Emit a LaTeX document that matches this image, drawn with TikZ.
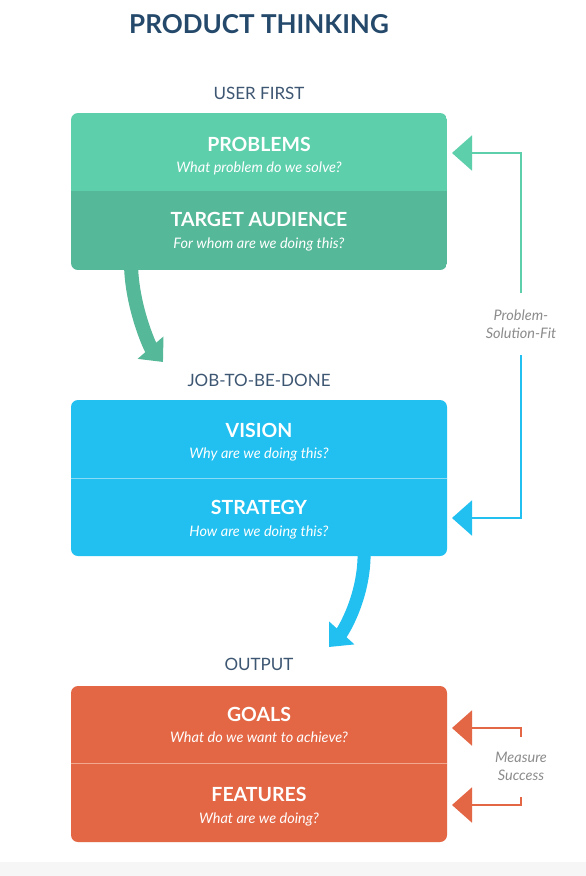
\documentclass[tikz,border=0pt]{standalone}
\usepackage{fontspec}
\setmainfont{Lato}
\usetikzlibrary{arrows.meta}
\definecolor{navy}{HTML}{24496B}
\definecolor{navylight}{HTML}{3D5672}
\definecolor{gtop}{HTML}{5DCFAB}
\definecolor{gbot}{HTML}{55B898}
\definecolor{bluebox}{HTML}{21C0F0}
\definecolor{bluediv}{HTML}{8ADCF6}
\definecolor{orangebox}{HTML}{E36745}
\definecolor{orangediv}{HTML}{F2A88F}
\definecolor{graytext}{HTML}{8C8C8C}
\definecolor{strip}{HTML}{F6F6F6}
\begin{document}
\begin{tikzpicture}[x=1pt,y=-1pt,
  half/.style={minimum width=376pt,minimum height=78pt,inner sep=0pt,outer sep=0pt},
  head/.style={anchor=base,inner sep=0pt,text=white,font=\bfseries\fontsize{19.5}{23}\selectfont},
  sub/.style={anchor=base,inner sep=0pt,text=white,font=\itshape\fontsize{14.5}{17}\selectfont},
  section/.style={anchor=base,inner sep=0pt,text=navylight,font=\fontsize{17}{20}\selectfont},
  side/.style={align=center,inner sep=0pt,text=graytext,font=\itshape\fontsize{14.5}{18}\selectfont},
  conn/.style={line width=2pt,-{Triangle[length=20pt,width=35pt]}},
  bigarrow/.style={-{Triangle[length=19pt,width=33pt]}}
]
\useasboundingbox (0,0) rectangle (586,876);
\fill[white] (0,0) rectangle (586,876);
\fill[strip] (0,862) rectangle (586,876);

% title and section labels
\node[anchor=base,inner sep=0pt,text=navy,font=\bfseries\fontsize{26}{30}\selectfont] (title) at (259,33) {PRODUCT THINKING};
\node[section] (userfirst) at (259,99) {USER FIRST};
\node[section] (jtbd) at (259,386) {JOB-TO-BE-DONE};
\node[section] (output) at (259,670) {OUTPUT};

% curved arrows (drawn below boxes)
\coordinate (gstart) at (131,262);
\coordinate (gtip) at (163,362);
\draw[bigarrow,line width=14pt,gbot] (gstart) .. controls (131,305) and (150,347) .. (gtip);
\coordinate (bstart) at (364,548);
\coordinate (btip) at (329,647);
\draw[bigarrow,line width=13pt,bluebox] (bstart) .. controls (366,595) and (342.4,632.2) .. (btip);

% green box
\begin{scope}
\clip[rounded corners=7pt] (71,113) rectangle (447,270);
\fill[gtop] (71,113) rectangle (447,191);
\fill[gbot] (71,191) rectangle (447,270);
\end{scope}
\node[half] (problems) at (259,152) {};
\node[half] (audience) at (259,230.5) {};
\node[head] (problemsT) at (259,151) {PROBLEMS};
\node[sub] (problemsS) at (259,172) {What problem do we solve?};
\node[head] (audienceT) at (259,226) {TARGET AUDIENCE};
\node[sub] (audienceS) at (259,248) {For whom are we doing this?};

% blue box
\fill[bluebox,rounded corners=7pt] (71,400) rectangle (447,556);
\draw[bluediv,line width=1pt] (71,478) -- (447,478);
\node[half] (vision) at (259,439) {};
\node[half] (strategy) at (259,517) {};
\node[head] (visionT) at (259,437) {VISION};
\node[sub] (visionS) at (259,458) {Why are we doing this?};
\node[head] (strategyT) at (259,514) {STRATEGY};
\node[sub] (strategyS) at (259,536) {How are we doing this?};

% orange box
\fill[orangebox,rounded corners=7pt] (71,686) rectangle (447,842);
\draw[orangediv,line width=1pt] (71,763) -- (447,763);
\node[half] (goals) at (259,724.5) {};
\node[half] (features) at (259,802.5) {};
\node[head] (goalsT) at (259,721) {GOALS};
\node[sub] (goalsS) at (259,742) {What do we want to achieve?};
\node[head] (featuresT) at (259,801) {FEATURES};
\node[sub] (featuresS) at (259,823) {What are we doing?};

% problem-solution-fit
\node[side] (psf) at (521,324) {Problem-\\Solution-Fit};
\coordinate (psfTop) at (521,293);
\coordinate (psfBot) at (521,355);
\draw[conn,gtop] (psfTop) |- ([xshift=5pt,yshift=-1pt]problems.east);
\draw[conn,bluebox] (psfBot) |- ([xshift=5pt,yshift=-1pt]strategy.east);

% measure success
\node[side] (ms) at (521,766) {Measure\\Success};
\coordinate (msTop) at (521,737);
\coordinate (msBot) at (521,797);
\draw[conn,orangebox] (msTop) |- ([xshift=5pt,yshift=-3.5pt]goals.east);
\draw[conn,orangebox] (msBot) |- ([xshift=5pt,yshift=-2.5pt]features.east);
\end{tikzpicture}
\end{document}
